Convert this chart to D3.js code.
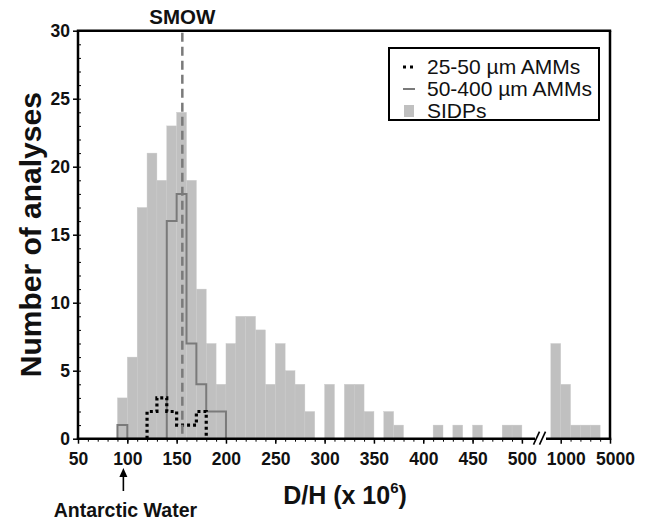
<!DOCTYPE html>
<html><head><meta charset="utf-8">
<script src="https://cdn.jsdelivr.net/npm/d3@7/dist/d3.min.js"></script>
<style>
body{margin:0;background:#fff}
svg{display:block}
text{font-family:"Liberation Sans",Arial,Helvetica,sans-serif;fill:#111}
</style>
</head><body>
<svg id="chart" width="652" height="523"></svg>
<script>
// ---------- data ----------
const sidpBinStarts = [90,100,110,120,130,140,150,160,170,180,190,200,210,220,230,240,250,260,270,280,290,300,310,320,330,340,350,360,370,380,390,400,410,420,430,440,450,460,470,480,490];
const sidpCounts    = [3,6,17,21,19,23,24,19,11,7,4,7,9,9,8,4,7,5,4,2,0,4,0,4,4,2,0,2,1,0,0,0,1,0,1,0,1,0,0,1,1];
const sidpHighEdges  = [200,1000,1800,2600,3400,4200];
const sidpHighCounts = [7,4,1,1,1];
const amm50BinStarts = [90,100,110,120,130,140,150,160,170,180,190];
const amm50Counts    = [1,0,0,0,0,16,18,7,4,2,2];
const amm25BinStarts = [120,130,140,150,160,170];
const amm25Counts    = [2,3,2,1,1,2];
const binWidth = 10;
const xTicksLow  = [50,100,150,200,250,300,350,400,450,500];
const xTicksHigh = [1000,5000];
const xMinorHigh = [1800,2600,3400,4200];
const yTicks = [0,5,10,15,20,25,30];
const smowValue = 155.76;
const antarcticValue = 96;
const legendLabels = ["25-50 µm AMMs","50-400 µm AMMs","SIDPs"];

// ---------- layout ----------
const L = 78, R = 610, T = 30.7, B = 438.7;
const lowEnd = 521.9, highStart = 560.7;
const svg = d3.select("#chart");

const y = d3.scaleLinear().domain([0,30]).range([B,T]);
const xLow = d3.scaleLinear().domain([50,500]).range([L,lowEnd]);
const xHigh = d3.scaleLinear().domain([1000,5000]).range([highStart,R]);

const barFill = "#c0c0c0";

// SIDP bars (low segment)
svg.append("g").selectAll("rect").data(sidpBinStarts.map((s,i)=>({s,c:sidpCounts[i]})).filter(d=>d.c>0))
  .join("rect")
  .attr("x", d=>xLow(d.s)).attr("width", d=>xLow(d.s+binWidth)-xLow(d.s))
  .attr("y", d=>y(d.c)).attr("height", d=>y(0)-y(d.c))
  .attr("fill", barFill).attr("stroke", "#cacaca").attr("stroke-width", 0.4);

// SIDP bars (high segment)
svg.append("g").selectAll("rect").data(sidpHighCounts.map((c,i)=>({a:sidpHighEdges[i],b:sidpHighEdges[i+1],c})))
  .join("rect")
  .attr("x", d=>xHigh(d.a)).attr("width", d=>xHigh(d.b)-xHigh(d.a))
  .attr("y", d=>y(d.c)).attr("height", d=>y(0)-y(d.c))
  .attr("fill", barFill).attr("stroke", "#cacaca").attr("stroke-width", 0.4);

function stepPoints(starts, counts){
  const pts = [[xLow(starts[0]), y(0)]];
  starts.forEach((s,i)=>{
    pts.push([xLow(s), y(counts[i])]);
    pts.push([xLow(s+binWidth), y(counts[i])]);
  });
  pts.push([xLow(starts[starts.length-1]+binWidth), y(0)]);
  return pts;
}
const line = d3.line();

// 50-400 µm AMMs outline
svg.append("path").attr("d", line(stepPoints(amm50BinStarts, amm50Counts)))
  .attr("fill","none").attr("stroke","#7a7a7a").attr("stroke-width",2);

// 25-50 µm AMMs outline (dotted)
svg.append("path").attr("d", line(stepPoints(amm25BinStarts, amm25Counts)))
  .attr("fill","none").attr("stroke","#000").attr("stroke-width",3.2)
  .attr("stroke-dasharray","3,3");

// SMOW dashed line
svg.append("line").attr("x1", xLow(smowValue)).attr("x2", xLow(smowValue))
  .attr("y1", T+2).attr("y2", B)
  .attr("stroke","#7a7a7a").attr("stroke-width",2.5).attr("stroke-dasharray","9,5");
svg.append("text").attr("x", xLow(smowValue)).attr("y", 24)
  .attr("text-anchor","middle").attr("font-weight","bold").attr("font-size",20.5).text("SMOW");

// ---------- axes ----------
const tickFont = g => g.selectAll("text").attr("font-size",17.5).attr("font-weight","bold")
  .attr("font-family","'Liberation Sans',Arial,sans-serif").attr("fill","#111");
const fmt = d3.format("d");

// Y major
svg.append("g").attr("transform",`translate(${L},0)`)
  .call(d3.axisLeft(y).tickValues(yTicks).tickSize(5).tickPadding(3).tickFormat(fmt))
  .call(g=>g.select(".domain").remove())
  .call(g=>g.selectAll("line").attr("stroke","#000").attr("stroke-width",1.5))
  .call(tickFont);
// Y minor
svg.append("g").attr("transform",`translate(${L},0)`)
  .call(d3.axisRight(y).tickValues(d3.range(0,31,1)).tickSize(3).tickFormat(""))
  .call(g=>g.select(".domain").remove())
  .call(g=>g.selectAll("line").attr("stroke","#000").attr("stroke-width",1));

// X low major
svg.append("g").attr("transform",`translate(0,${B})`)
  .call(d3.axisBottom(xLow).tickValues(xTicksLow).tickSize(5).tickPadding(9).tickFormat(fmt))
  .call(g=>g.select(".domain").remove())
  .call(g=>g.selectAll("line").attr("stroke","#000").attr("stroke-width",1.5))
  .call(tickFont);
// X low minor
svg.append("g").attr("transform",`translate(0,${B})`)
  .call(d3.axisBottom(xLow).tickValues(d3.range(50,501,10)).tickSize(3).tickFormat(""))
  .call(g=>g.select(".domain").remove())
  .call(g=>g.selectAll("line").attr("stroke","#000").attr("stroke-width",1));
// X high major
svg.append("g").attr("transform",`translate(0,${B})`)
  .call(d3.axisBottom(xHigh).tickValues(xTicksHigh).tickSize(5).tickPadding(9).tickFormat(fmt))
  .call(g=>g.select(".domain").remove())
  .call(g=>g.selectAll("line").attr("stroke","#000").attr("stroke-width",1.5))
  .call(tickFont)
  .call(g=>g.selectAll("text").attr("dx",5));
// X high minor
svg.append("g").attr("transform",`translate(0,${B})`)
  .call(d3.axisBottom(xHigh).tickValues(xMinorHigh).tickSize(3).tickFormat(""))
  .call(g=>g.select(".domain").remove())
  .call(g=>g.selectAll("line").attr("stroke","#000").attr("stroke-width",1));

// frame
const frame = svg.append("g").attr("stroke","#000").attr("stroke-width",2.5).attr("fill","none");
frame.append("line").attr("x1",L).attr("x2",L).attr("y1",T).attr("y2",B+1.2);
frame.append("line").attr("x1",L-1.2).attr("x2",R+1.2).attr("y1",T).attr("y2",T);
frame.append("line").attr("x1",R).attr("x2",R).attr("y1",T).attr("y2",B+1.2);
frame.append("line").attr("x1",L-1.2).attr("x2",535).attr("y1",B).attr("y2",B);
frame.append("line").attr("x1",546).attr("x2",R+1.2).attr("y1",B).attr("y2",B);
// break mark
const brk = svg.append("g").attr("stroke","#000").attr("stroke-width",1.6);
brk.append("line").attr("x1",533.5).attr("y1",B+6).attr("x2",539.5).attr("y2",B-7);
brk.append("line").attr("x1",539.5).attr("y1",B+6).attr("x2",545.5).attr("y2",B-7);

// axis titles
svg.append("text").attr("transform",`translate(41,${(T+B)/2}) rotate(-90)`)
  .attr("text-anchor","middle").attr("font-weight","bold").attr("font-size",30)
  .text("Number of analyses");
const xt = svg.append("text").attr("x",345).attr("y",504).attr("text-anchor","middle")
  .attr("font-weight","bold").attr("font-size",25);
xt.append("tspan").text("D/H (x 10");
xt.append("tspan").attr("font-size",15).attr("dy",-11).text("6");
xt.append("tspan").attr("dy",11).text(")");

// Antarctic water arrow
const ax = xLow(antarcticValue);
svg.append("line").attr("x1",ax).attr("x2",ax).attr("y1",491).attr("y2",475)
  .attr("stroke","#000").attr("stroke-width",1.6);
svg.append("path").attr("d",`M${ax-4},${477} L${ax},${468} L${ax+4},${477} Z`).attr("fill","#000");
svg.append("text").attr("x",ax+2).attr("y",517).attr("text-anchor","middle")
  .attr("font-weight","bold").attr("font-size",19.5).text("Antarctic Water");

// ---------- legend ----------
const lg = svg.append("g");
lg.append("rect").attr("x",389).attr("y",48).attr("width",210).attr("height",72)
  .attr("fill","#fff").attr("stroke","#000").attr("stroke-width",2);
const rowY = [67,89,111];
lg.append("line").attr("x1",403).attr("x2",413).attr("y1",rowY[0]).attr("y2",rowY[0])
  .attr("stroke","#000").attr("stroke-width",3).attr("stroke-dasharray","3,4");
lg.append("line").attr("x1",403).attr("x2",415).attr("y1",rowY[1]).attr("y2",rowY[1])
  .attr("stroke","#7a7a7a").attr("stroke-width",2);
lg.append("rect").attr("x",404).attr("y",rowY[2]-6).attr("width",10).attr("height",12).attr("fill",barFill);
lg.selectAll("text.lab").data(legendLabels).join("text").attr("class","lab")
  .attr("x",427).attr("y",(d,i)=>rowY[i]+7).attr("font-size",21).text(d=>d);
</script>
</body></html>
